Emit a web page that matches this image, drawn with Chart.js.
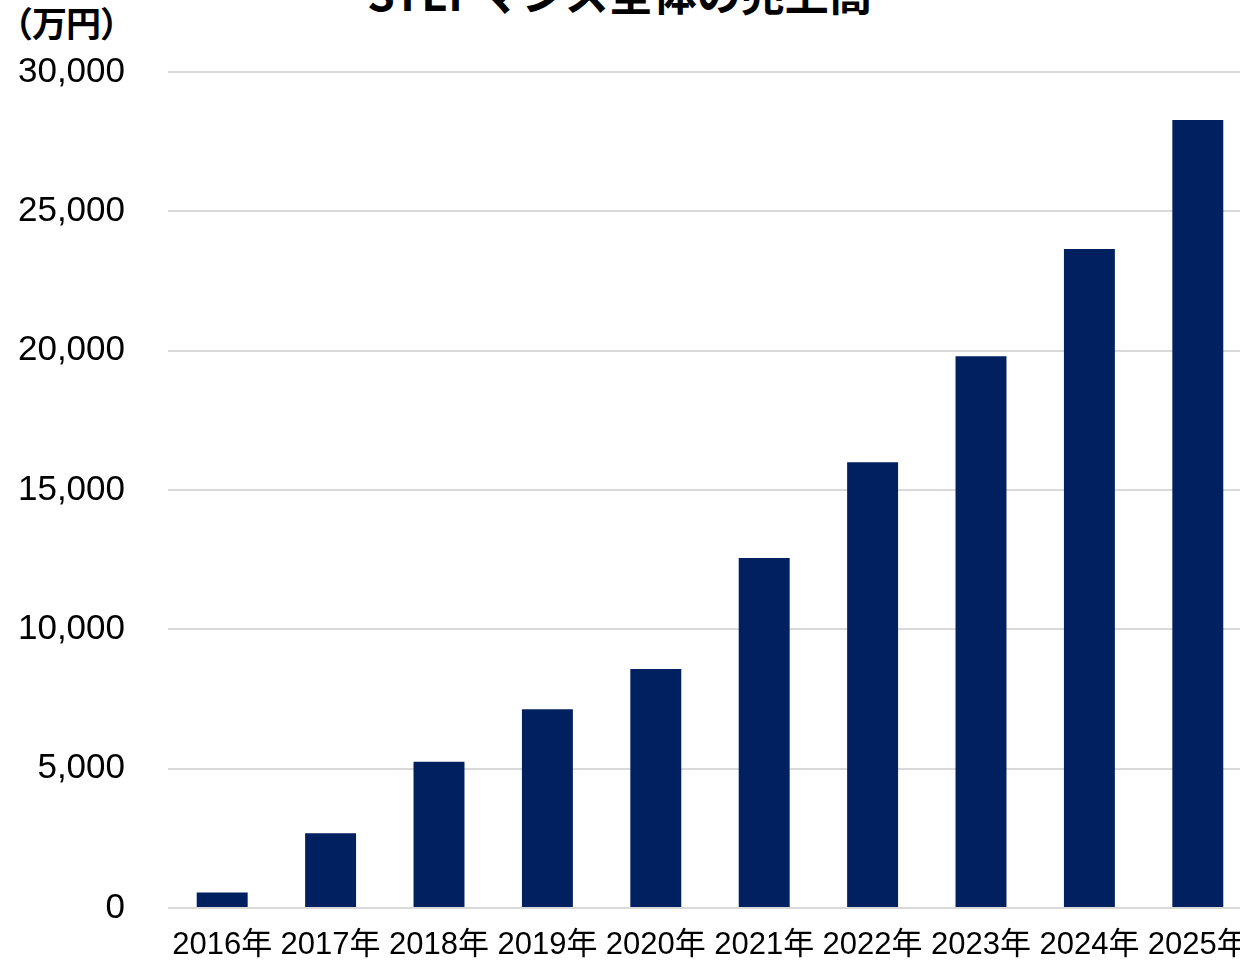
<!DOCTYPE html>
<html lang="ja">
  <head>
    <meta charset="UTF-8" />
    <title>売上高</title>
    <style>
      body {
        margin: 0;
        background: #fff;
        overflow: hidden;
        width: 1240px;
        height: 963px;
        position: relative;
      }
      #chart {
        position: absolute;
        left: 0;
        top: 0;
      }
      .title {
        position: absolute;
        left: 0;
        width: 1240px;
        top: -40px;
        text-align: center;
        font: bold 44px "Noto Sans CJK JP", sans-serif;
        color: #000;
      }
      .unit {
        position: absolute;
        left: -2px;
        top: -4px;
        font: bold 35px "Noto Sans CJK JP", sans-serif;
        letter-spacing: -1px;
        color: #000;
      }
    </style>
  </head>
  <body>
    <div class="title">STEPマンス全体の売上高</div>
    <div class="unit">（万円）</div>
    <canvas id="chart" width="1252" height="963"></canvas>

    <script src="https://cdn.jsdelivr.net/npm/chart.js"></script>
    <script>
      const years = ["2016年", "2017年", "2018年", "2019年", "2020年",
                     "2021年", "2022年", "2023年", "2024年", "2025年"];
      const sales = [560, 2680, 5250, 7130, 8580, 12560, 16000, 19800, 23650, 28280];
      const yMax = 30000;
      const yStep = 5000;

      const fontFamily = "'Liberation Sans', 'Noto Sans CJK JP', sans-serif";

      new Chart(document.getElementById("chart"), {
        type: "bar",
        data: {
          labels: years,
          datasets: [
            {
              data: sales,
              backgroundColor: "#002060",
              barPercentage: 0.47,
              categoryPercentage: 1,
            },
          ],
        },
        options: {
          responsive: false,
          animation: false,
          locale: "en-US",
          layout: { padding: { top: 72, left: 0, right: 0, bottom: 0 } },
          plugins: {
            legend: { display: false },
            tooltip: { enabled: false },
          },
          scales: {
            x: {
              grid: { display: false, drawTicks: false },
              border: { display: false },
              ticks: { color: "#000", font: { family: fontFamily, size: 31 }, padding: 19, maxRotation: 0, autoSkip: false },
              afterFit: (s) => {
                s.height = 55;
                s.paddingLeft = 0;
                s.paddingRight = 0;
              },
            },
            y: {
              min: 0,
              max: yMax,
              grid: { color: "#d9d9d9", lineWidth: 2, drawTicks: false },
              border: { display: false },
              ticks: {
                stepSize: yStep,
                color: "#000",
                font: { family: fontFamily, size: 35 },
                padding: 43,
                callback: (v) => v.toLocaleString("en-US"),
              },
              afterFit: (s) => {
                s.width = 168;
                s.paddingTop = 0;
                s.paddingBottom = 0;
              },
            },
          },
        },
      });
    </script>
  </body>
</html>
